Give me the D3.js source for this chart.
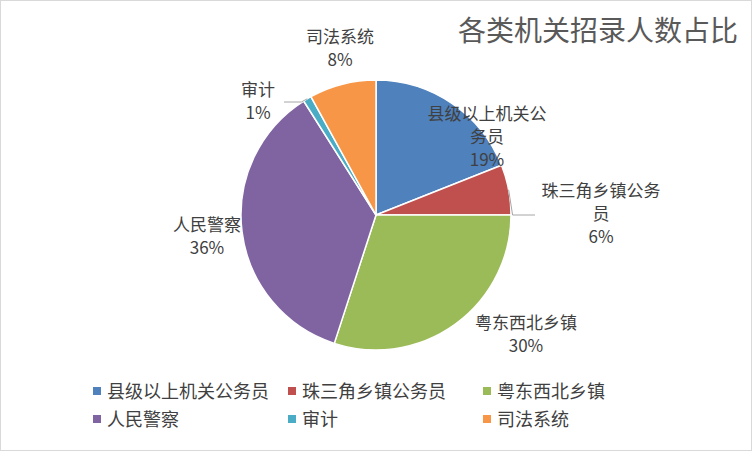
<!DOCTYPE html><html><head><meta charset="utf-8">
<script src="https://cdn.jsdelivr.net/npm/d3@7"></script>
<style>body{margin:0;background:#fff}text{font-family:"Noto Sans CJK SC",sans-serif;fill:#404040}</style></head><body>
<svg id="c" width="752" height="451"></svg>
<script>
const categories=["县级以上机关公务员","珠三角乡镇公务员","粤东西北乡镇","人民警察","审计","司法系统"];
const values=[19,6,30,36,1,8];
const colors=["#4F81BD","#C0504D","#9BBB59","#8064A2","#4BACC6","#F79646"];
const labelLines=[["县级以上机关公","务员"],["珠三角乡镇公务","员"],["粤东西北乡镇"],["人民警察"],["审计"],["司法系统"]];
const labelPos=[[487,120],[601,197],[526,329],[207,231],[258,96],[340,43]];
const svg=d3.select("#c");
svg.append("rect").attr("x",0.5).attr("y",0.5).attr("width",751).attr("height",450).attr("fill","#fff").attr("stroke","#d9d9d9");
svg.append("text").attr("x",738).attr("y",41).attr("text-anchor","end").attr("font-size",28).style("fill","#595959").text("各类机关招录人数占比");
const cx=376,cy=215,R=135;
const pie=d3.pie().sort(null)(values);
const arc=d3.arc().innerRadius(0).outerRadius(R);
const g=svg.append("g").attr("transform",`translate(${cx},${cy})`);
g.selectAll("path").data(pie).join("path").attr("d",arc).attr("fill",(d,i)=>colors[i]).attr("stroke","#fff").attr("stroke-width",1.5);
pie.forEach((d,i)=>{
  if(i===1||i===4){
    const a=(d.startAngle+d.endAngle)/2;
    const p=[cx+Math.sin(a)*R,cy-Math.cos(a)*R];
    let q;
    if(i===1) q=[labelPos[i][0]-66,labelPos[i][1]+18];
    else q=[labelPos[i][0]+26,labelPos[i][1]+6];
    svg.append("polyline").attr("points",`${p[0]},${p[1]} ${i===1?p[0]+4:p[0]-6},${q[1]} ${q[0]},${q[1]}`).attr("fill","none").attr("stroke","#a6a6a6");
  }
});
labelLines.forEach((ls,i)=>{
  const t=svg.append("text").attr("text-anchor","middle").attr("font-size",17);
  const all=ls.concat([values[i]+"%"]);
  all.forEach((s,k)=>t.append("tspan").attr("x",labelPos[i][0]).attr("y",labelPos[i][1]+k*23).text(s));
});
const lx=[97,292,487],ly=[391,419];
categories.forEach((c,i)=>{
  const x=lx[i%3],y=ly[Math.floor(i/3)];
  svg.append("rect").attr("x",x-4).attr("y",y-4).attr("width",8).attr("height",8).attr("fill",colors[i]);
  svg.append("text").attr("x",x+10).attr("y",y+7).attr("font-size",18).text(c);
});
</script></body></html>
